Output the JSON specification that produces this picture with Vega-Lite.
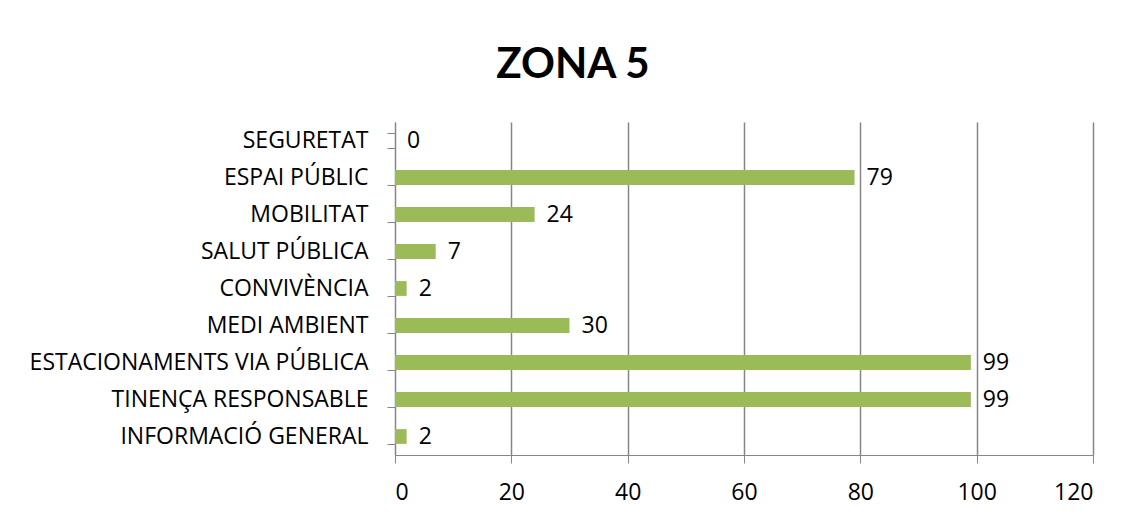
{
  "$schema": "https://vega.github.io/schema/vega-lite/v6.json",
  "width": 698,
  "height": 333,
  "autosize": {"type": "none"},
  "padding": {"left": 395, "top": 122, "right": 36, "bottom": 60},
  "background": "white",
  "title": {
    "text": "ZONA 5",
    "font": "Lato",
    "fontSize": 42,
    "fontWeight": "bold",
    "color": "black",
    "anchor": "middle",
    "frame": "group",
    "dx": -171,
    "dy": 49,
    "offset": 40,
    "baseline": "alphabetic"
  },
  "data": {
    "values": [
      {"category": "SEGURETAT", "value": 0},
      {"category": "ESPAI PÚBLIC", "value": 79},
      {"category": "MOBILITAT", "value": 24},
      {"category": "SALUT PÚBLICA", "value": 7},
      {"category": "CONVIVÈNCIA", "value": 2},
      {"category": "MEDI AMBIENT", "value": 30},
      {"category": "ESTACIONAMENTS VIA PÚBLICA", "value": 99},
      {"category": "TINENÇA RESPONSABLE", "value": 99},
      {"category": "INFORMACIÓ GENERAL", "value": 2}
    ]
  },
  "encoding": {
    "y": {
      "field": "category",
      "type": "nominal",
      "sort": null,
      "scale": {"paddingInner": 0.6, "paddingOuter": 0.3},
      "axis": {
        "title": null,
        "grid": false,
        "tickBand": "extent",
        "tickSize": 8,
        "tickColor": "#868686",
        "domainColor": "#868686",
        "labelFont": "Open Sans",
        "labelFontSize": 23,
        "labelColor": "black",
        "labelPadding": 19,
        "labelLimit": 400
      }
    },
    "x": {
      "field": "value",
      "type": "quantitative",
      "scale": {"domain": [0, 120], "nice": false},
      "axis": {
        "title": null,
        "values": [0, 20, 40, 60, 80, 100, 120],
        "grid": true,
        "gridColor": "#868686",
        "gridWidth": 1.5,
        "tickSize": 8,
        "tickColor": "#868686",
        "domainColor": "#868686",
        "labelFont": "Open Sans",
        "labelFontSize": 23,
        "labelColor": "black",
        "labelPadding": 18
      }
    }
  },
  "layer": [
    {"mark": {"type": "bar", "color": "#9BBB59"}},
    {
      "mark": {"type": "text", "align": "left", "dx": 12, "font": "Open Sans", "fontSize": 23, "color": "black", "baseline": "middle"},
      "encoding": {"text": {"field": "value", "type": "quantitative"}}
    }
  ],
  "config": {"view": {"stroke": null}}
}
